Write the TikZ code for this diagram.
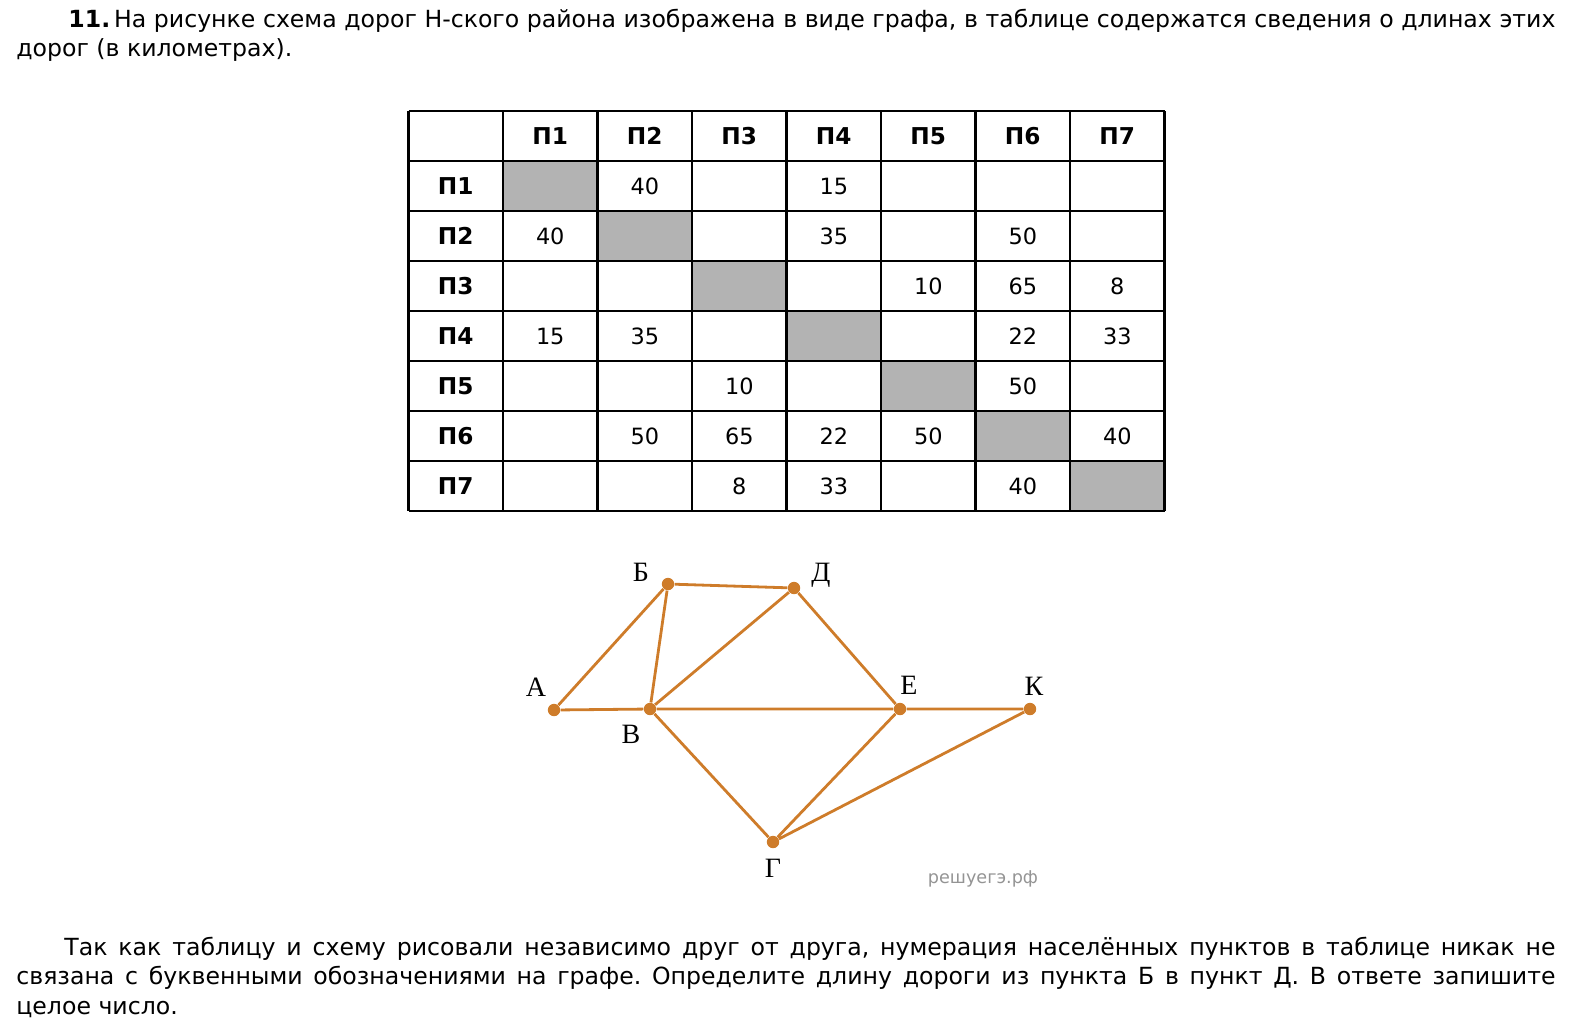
\documentclass[tikz,border=0pt]{standalone}
\usepackage{fontspec}
\setmainfont{DejaVu Sans}
\newfontfamily\graphfont{Liberation Serif}
\usepackage{tikz}
\usetikzlibrary{positioning}
\definecolor{roadorange}{RGB}{206,124,42}
\definecolor{cellgray}{RGB}{179,179,179}
\newcommand{\colx}[1]{408.5+(#1)*94.5}
\newcommand{\rowy}[1]{111+(#1)*50}
\frenchspacing

\begin{document}
\begin{tikzpicture}[x=0.5pt,y=-0.5pt,
  tabline/.style={line width=1.1pt},
  cell/.style={inner sep=0pt,font=\fontsize{11.2}{13}\selectfont},
  head/.style={inner sep=0pt,font=\fontsize{11.6}{13}\selectfont\bfseries},
  town/.style={circle,fill=roadorange,inner sep=0pt,minimum size=6.2pt},
  road/.style={draw=roadorange,line width=1.4pt},
  townlbl/.style={inner sep=0pt,font=\graphfont\fontsize{14}{16}\selectfont}]
\useasboundingbox (0,0) rectangle (1580,1030);
% task text
\node[anchor=north west,inner sep=0pt,text width=769.5pt,align=justify,
  font=\fontsize{11.8}{14.7}\selectfont] (task) at (16,6.4)
  {\strut\hspace*{26pt}\textbf{11.}\,На рисунке схема дорог Н-ского района изображена в виде графа, в таблице содержатся сведения о длинах этих\linebreak
   дорог (в километрах).};
% distance table
\foreach \k in {1,...,7}
  \fill[cellgray] ({\colx{\k}},{\rowy{\k}}) rectangle ++(94.5,50);
\foreach \k in {0,...,8} {
  \draw[tabline] ({\colx{\k}},111) -- ({\colx{\k}},511);
  \draw[tabline] (408.5,{\rowy{\k}}) -- (1164.5,{\rowy{\k}});
}
\foreach \k in {1,...,7} {
  \node[head] (col\k) at ({\colx{\k+0.5}},136) {П\k};
  \node[head] (row\k) at (455.75,{\rowy{\k+0.5}}) {П\k};
}
\foreach \r/\c/\v in {1/2/40,1/4/15,2/1/40,2/4/35,2/6/50,3/5/10,3/6/65,3/7/8,
    4/1/15,4/2/35,4/6/22,4/7/33,5/3/10,5/6/50,6/2/50,6/3/65,6/4/22,6/5/50,
    6/7/40,7/3/8,7/4/33,7/6/40}
  \node[cell] (v\r\c) at ({\colx{\c+0.5}},{\rowy{\r+0.5}}) {\v};
% road graph
\node[town] (A) at (554,710) {};
\node[town] (B) at (668,584) {};
\node[town] (V) at (650,709) {};
\node[town] (G) at (773,842) {};
\node[town] (D) at (794,588) {};
\node[town] (E) at (900,709) {};
\node[town] (K) at (1030,709) {};
\node[townlbl] (lA) at (536,687) {А};
\node[townlbl] (lB) at (641,572) {Б};
\node[townlbl] (lV) at (631,734) {В};
\node[townlbl] (lG) at (773,868) {Г};
\node[townlbl] (lD) at (821,575) {Д};
\node[townlbl] (lE) at (909,685) {Е};
\node[townlbl] (lK) at (1034,686) {К};
\draw[road] (A) -- (B) (A) -- (V) (B) -- (V) (B) -- (D) (V) -- (D)
  (V) -- (E) (V) -- (G) (D) -- (E) (E) -- (K) (E) -- (G) (G) -- (K);
\node[inner sep=0pt,text=black!42,font=\fontsize{8.8}{10}\selectfont] (mark)
  at (983,879) {решуегэ.рф};
% question
\node[anchor=north west,inner sep=0pt,text width=769.5pt,align=justify,
  font=\fontsize{11.8}{14.7}\selectfont] (quest) at (16,934.6)
  {\strut\hspace*{24pt}Так как таблицу и схему рисовали независимо друг от друга, нумерация населённых пунктов в таблице никак не\linebreak
   связана с буквенными обозначениями на графе. Определите длину дороги из пункта Б в пункт Д. В ответе запишите\linebreak
   целое число.};
\end{tikzpicture}
\end{document}
